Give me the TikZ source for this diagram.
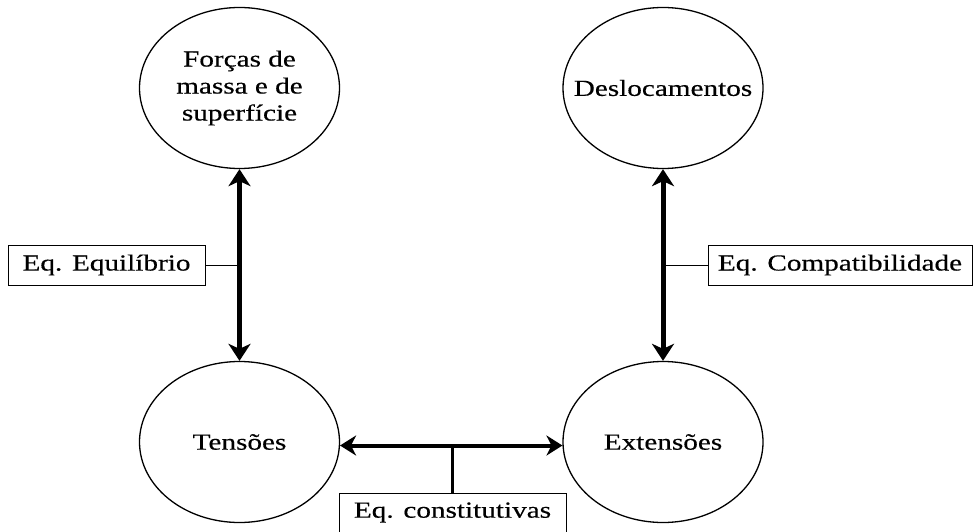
\documentclass[tikz,border=0pt]{standalone}
\usepackage{fontspec}
\setmainfont{Liberation Serif}[FakeStretch=1.27,FakeBold=0.4]
\usetikzlibrary{shapes.geometric,arrows.meta,calc}
\begin{document}
\begin{tikzpicture}[x=1pt,y=-1pt,
  state/.style={draw, ellipse, line width=1.3pt, minimum width=200pt, minimum height=161pt, inner sep=0pt, align=center, font=\fontsize{23}{27}\selectfont},
  eqbox/.style={draw, rectangle, line width=0.9pt, inner sep=0pt, font=\fontsize{23}{27}\selectfont},
  bigarrow/.style={line width=5pt, {Stealth[length=17pt,width=22pt,inset=5pt]}-{Stealth[length=17pt,width=22pt,inset=5pt]}},
  midarrow/.style={line width=4pt, {Stealth[length=16pt,width=20pt,inset=5pt]}-{Stealth[length=16pt,width=20pt,inset=5pt]}},
  thin link/.style={line width=0.9pt},
  stem/.style={line width=2.5pt}]
\useasboundingbox (0,0) rectangle (974,532);
\node[state] (tl) at (239.5,88) {Forças de\\massa e de\\superfície};
\node[state] (tr) at (663,88) {\makebox[130pt]{Deslocamentos}};
\node[state] (bl) at (239.5,442) {Tensões};
\node[state] (br) at (663,442) {Extensões};
\node[eqbox, minimum width=197pt, minimum height=40pt] (eqL) at (106.5,265) {Eq. Equilíbrio};
\node[eqbox, minimum width=264pt, minimum height=40pt] (eqR) at (840,265) {Eq. Compatibilidade};
\node[eqbox, minimum width=227pt, minimum height=39pt] (eqC) at (452.5,512.5) {Eq. constitutivas};
\draw[bigarrow] (tl.south) -- (bl.north);
\draw[bigarrow] (tr.south) -- (br.north);
\draw[midarrow] (bl.-2.5) -- (br.182.5);
\draw[thin link] (eqL.east) -- (eqL.east -| tl.south);
\draw[thin link] (eqR.west) -- (eqR.west -| tr.south);
\draw[stem] (eqC.north) -- (eqC.north |- bl.-2.5);
\end{tikzpicture}
\end{document}
